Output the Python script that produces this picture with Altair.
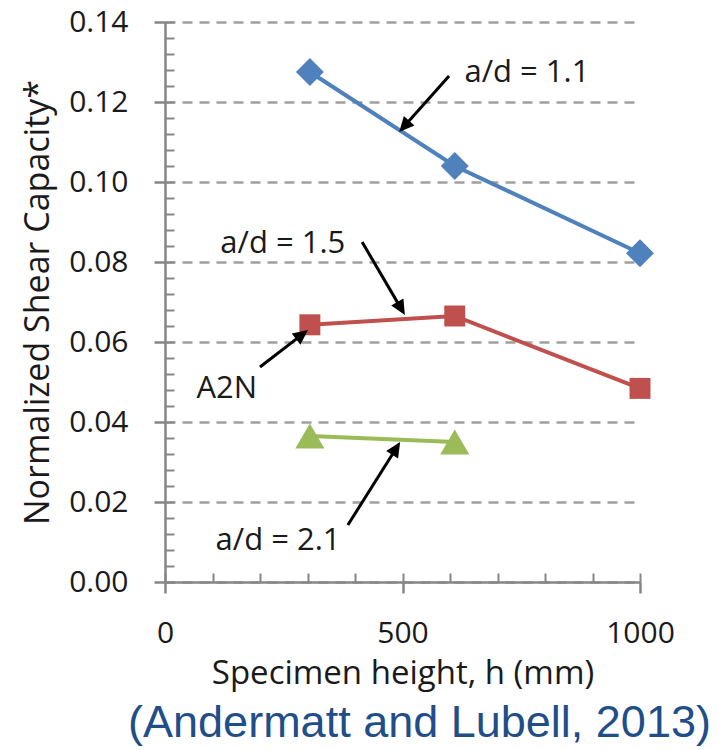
import math
import altair as alt
import pandas as pd

# ---------------- data ----------------
heights_11 = [305, 610, 1000]
values_11 = [0.1275, 0.104, 0.0822]
heights_15 = [305, 610, 1000]
values_15 = [0.0643, 0.0665, 0.0484]
heights_21 = [305, 610]
values_21 = [0.0365, 0.0350]
series_names = ["a/d = 1.1", "a/d = 1.5", "a/d = 2.1"]
series_colors = ["#4F81BD", "#C0504D", "#9BBB59"]
series_shapes = ["diamond", "square", "triangle-up"]
series_sizes = [780, 440, 850]

y_major = [0.00, 0.02, 0.04, 0.06, 0.08, 0.10, 0.12, 0.14]
y_minor = [0.000, 0.004, 0.008, 0.012, 0.016, 0.020, 0.024, 0.028, 0.032, 0.036,
           0.040, 0.044, 0.048, 0.052, 0.056, 0.060, 0.064, 0.068, 0.072, 0.076,
           0.080, 0.084, 0.088, 0.092, 0.096, 0.100, 0.104, 0.108, 0.112, 0.116,
           0.120, 0.124, 0.128, 0.132, 0.136, 0.140]
x_major = [0, 500, 1000]
x_minor = [0, 100, 200, 300, 400, 500, 600, 700, 800, 900, 1000]

# annotation labels (text anchor positions in data units)
label_text = ["a/d = 1.1", "a/d = 1.5", "A2N", "a/d = 2.1"]
label_x = [762, 248, 130, 238]
label_y = [0.125, 0.0822, 0.046, 0.008]

# arrows (tail -> tip, data units)
arrow_x1 = [598, 415, 200, 385]
arrow_y1 = [0.1265, 0.085, 0.05375, 0.01425]
arrow_x2 = [493, 505, 301, 495]
arrow_y2 = [0.1125, 0.06675, 0.063, 0.035]

# ---------------- layout ----------------
W, H = 475, 560
XMAX, YMAX = 1000, 0.14
FONT = "Open Sans"
AX_COLOR = "#868686"
TXT = "#1a1a1a"

rows = []
for name, xs_, ys_ in zip(series_names, [heights_11, heights_15, heights_21],
                          [values_11, values_15, values_21]):
    for xv, yv in zip(xs_, ys_):
        rows.append({"series": name, "h": xv, "v": yv})
df = pd.DataFrame(rows)

# arrow geometry (derived from scale factors)
px_x = W / XMAX
px_y = H / YMAX
arows = []
for x1, y1, x2, y2 in zip(arrow_x1, arrow_y1, arrow_x2, arrow_y2):
    dx = (x2 - x1) * px_x
    dy = -(y2 - y1) * px_y
    L = math.hypot(dx, dy)
    ux, uy = dx / L, dy / L
    ang = math.degrees(math.atan2(ux, -uy)) % 360
    back = 10.0
    ex = x2 - ux * back / px_x
    ey = y2 + uy * back / px_y
    arows.append({"x1": x1, "y1": y1, "ex": ex, "ey": ey, "x2": x2, "y2": y2, "ang": ang})
adf = pd.DataFrame(arows)
ldf = pd.DataFrame({"t": label_text, "x": label_x, "y": label_y})

xs = alt.Scale(domain=[0, XMAX], nice=False, zero=False)
ys = alt.Scale(domain=[0, YMAX], nice=False, zero=False)

color = alt.Color("series:N", scale=alt.Scale(domain=series_names, range=series_colors), legend=None)

main_x_axis = alt.Axis(values=x_major, format="d", orient="bottom", grid=False,
                       domainColor=AX_COLOR, domainWidth=2.5, tickColor=AX_COLOR,
                       tickWidth=2.5, tickSize=11, labelFont=FONT, labelFontSize=30,
                       labelColor=TXT, labelPadding=25, labelFlush=False,
                       title="Specimen height, h (mm)",
                       titleFont=FONT, titleFontSize=33, titleFontWeight="normal",
                       titleColor=TXT, titlePadding=9)
main_y_axis = alt.Axis(values=y_major, format=".2f", orient="left", grid=True,
                       gridColor="#A0A0A0", gridDash=[10, 7], gridWidth=2.5,
                       domainColor=AX_COLOR, domainWidth=2.5, tickColor=AX_COLOR,
                       tickWidth=2.5, tickSize=11, labelFont=FONT, labelFontSize=30,
                       labelColor=TXT, labelPadding=26, labelFlush=False,
                       title="Normalized Shear Capacity*", titleFont=FONT,
                       titleFontSize=34, titleFontWeight="normal", titleColor=TXT,
                       titlePadding=13)
# inward minor ticks: opposite-side axes shifted onto the plot edge
minor_x_axis = alt.Axis(values=x_minor, orient="top", offset=-H, tickSize=9,
                        tickColor=AX_COLOR, tickWidth=2, labels=False, domain=False,
                        grid=False, title=None)
minor_y_axis = alt.Axis(values=y_minor, orient="right", offset=-W, tickSize=9,
                        tickColor=AX_COLOR, tickWidth=2, labels=False, domain=False,
                        grid=False, title=None)

lines = alt.Chart(df).mark_line(strokeWidth=4).encode(
    x=alt.X("h:Q", scale=xs, axis=main_x_axis),
    y=alt.Y("v:Q", scale=ys, axis=main_y_axis),
    color=color,
    detail="series:N",
)

points = alt.Chart(df).mark_point(filled=True, opacity=1).encode(
    x=alt.X("h:Q", scale=xs, axis=minor_x_axis),
    y=alt.Y("v:Q", scale=ys, axis=minor_y_axis),
    color=color,
    shape=alt.Shape("series:N", scale=alt.Scale(domain=series_names, range=series_shapes), legend=None),
    size=alt.Size("series:N", scale=alt.Scale(type="ordinal", domain=series_names, range=series_sizes), legend=None),
)

arrow_lines = alt.Chart(adf).mark_rule(strokeWidth=3, color="black").encode(
    x=alt.X("x1:Q", scale=xs, axis=None),
    y=alt.Y("y1:Q", scale=ys, axis=None),
    x2="ex:Q",
    y2="ey:Q",
)

arrow_heads = alt.Chart(adf).mark_point(
    filled=True, opacity=1, color="black", size=900,
    shape="M0,0L-0.47,1L0.47,1Z",
).encode(
    x=alt.X("x2:Q", scale=xs, axis=None),
    y=alt.Y("y2:Q", scale=ys, axis=None),
    angle=alt.Angle("ang:Q", scale=None),
)

labels = alt.Chart(ldf).mark_text(font=FONT, fontSize=31, color=TXT,
                                  align="center", baseline="alphabetic").encode(
    x=alt.X("x:Q", scale=xs, axis=None),
    y=alt.Y("y:Q", scale=ys, axis=None),
    text="t:N",
)

chart = alt.layer(lines, points, arrow_lines, arrow_heads, labels).resolve_axis(
    x="independent", y="independent"
).properties(
    width=W,
    height=H,
    background="white",
    autosize=alt.AutoSizeParams(type="none"),
    padding={"left": 165, "top": 22, "right": 79, "bottom": 168},
    title=alt.TitleParams(
        text="(Andermatt and Lubell, 2013)",
        orient="bottom", anchor="middle", font="Liberation Sans", fontSize=45,
        fontWeight="normal", color="#1F4E89", offset=11, dx=17,
    ),
).configure_view(stroke=None)

chart.save("out.html", embed_options={"renderer": "svg", "actions": False})
